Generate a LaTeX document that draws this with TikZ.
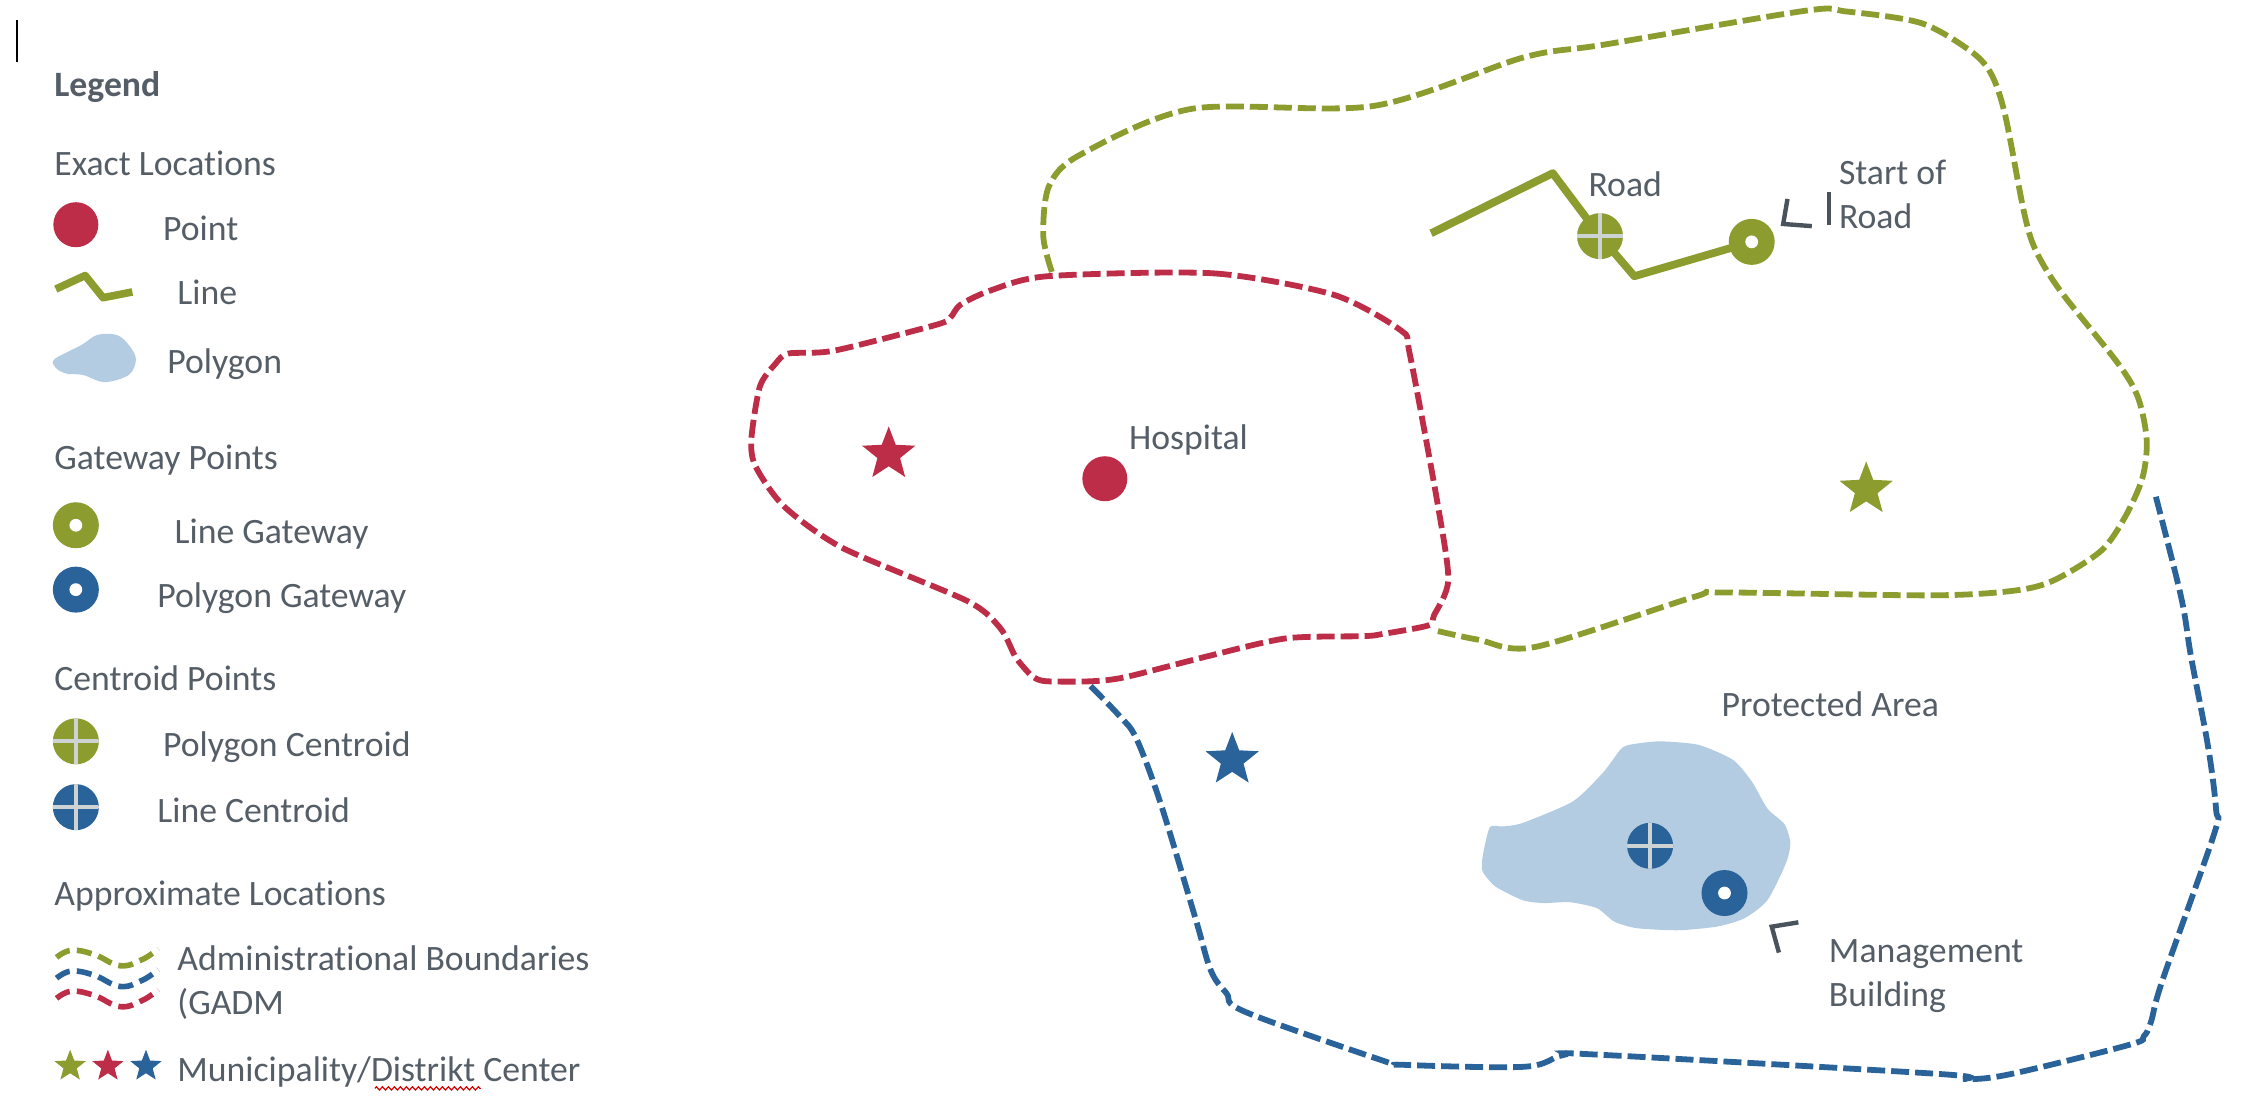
\documentclass[tikz,border=0pt]{standalone}
\usepackage{fontspec}
\setmainfont{Carlito}[Ligatures=NoCommon]
\usetikzlibrary{shapes.geometric,decorations.pathmorphing}
\pgfdeclarelayer{under}
\pgfsetlayers{under,main}
\definecolor{olv}{HTML}{8C9C2E}
\definecolor{crim}{HTML}{BE2D48}
\definecolor{blu}{HTML}{2A6399}
\definecolor{pale}{HTML}{B3CCE2}
\definecolor{txt}{HTML}{555E67}
\definecolor{crossc}{HTML}{CDD3D3}
\definecolor{markc}{HTML}{4A535C}
\tikzset{
  lbl/.style={anchor=base west,inner sep=0pt,outer sep=0pt,text=txt,yshift=-0.6pt,font=\fontsize{17.85}{20}\selectfont},
  pointmark/.style={circle,fill=#1,inner sep=0pt,minimum size=22.5pt},
  gatemark/.style={circle,fill=#1,inner sep=0pt,minimum size=23pt,
    path picture={\fill[white] (path picture bounding box.center) circle (3.2pt);}},
  centmark/.style={circle,fill=#1,inner sep=0pt,minimum size=23pt,
    path picture={\draw[crossc,line width=1.9pt]
      (path picture bounding box.north) -- (path picture bounding box.south)
      (path picture bounding box.west) -- (path picture bounding box.east);}},
  starbig/.style={star,star points=5,star point ratio=2.35,fill=#1,inner sep=0pt,minimum size=28pt},
  starsmall/.style={star,star points=5,star point ratio=2.35,fill=#1,inner sep=0pt,minimum size=16.5pt},
  bound/.style={draw=#1,line width=2.9pt,dash pattern=on 9pt off 3pt},
  legbound/.style={draw=#1,line width=2.8pt,dash pattern=on 7.5pt off 3.6pt},
  roadline/.style={draw=olv,line width=3.9pt,line join=round},
  tick/.style={draw=markc,line width=2.2pt},
}
\begin{document}
\begin{tikzpicture}[x=0.7156pt,y=-0.7156pt]
\useasboundingbox (0,0) rectangle (1568,771.4);
% cursor
\coordinate (cura) at (12,14); \coordinate (curb) at (12,43);
\draw[black,line width=0.9pt] (cura) -- (curb);
% legend
\node[lbl,font=\fontsize{17.85}{20}\selectfont\bfseries] (tlegend) at (38,66.5) {Legend};
\node[lbl] (texact) at (38,122) {Exact Locations};
\node[pointmark=crim] (lpoint) at (53,157) {};
\node[lbl] (tpoint) at (114,167.5) {Point};
\coordinate (la) at (39,202); \coordinate (lb) at (59.5,192.5); \coordinate (lc) at (72,208); \coordinate (ld) at (92.5,204);
\draw[olv,line width=3.8pt,line join=round] (la) -- (lb) -- (lc) -- (ld);
\node[lbl] (tline) at (124,212) {Line};
\fill[pale] plot[smooth cycle,tension=0.55] coordinates {(38,251) (57,241) (68,234) (81.5,234) (90,241) (95,251) (90,262) (73,267) (58,262) (46,261) (39,257)};
\node[lbl] (tpolygon) at (117,260) {Polygon};
\node[lbl] (tgateway) at (38,327) {Gateway Points};
\node[gatemark=olv] (lgl) at (53,367) {};
\node[lbl] (tgl) at (122,379) {Line Gateway};
\node[gatemark=blu] (lgp) at (53,412) {};
\node[lbl] (tgp) at (110,423.5) {Polygon Gateway};
\node[lbl] (tcent) at (38,481.5) {Centroid Points};
\node[centmark=olv] (lcp) at (53,518) {};
\node[lbl] (tcp) at (114,528) {Polygon Centroid};
\node[centmark=blu] (lcl) at (53,564) {};
\node[lbl] (tcl) at (110,574) {Line Centroid};
\node[lbl] (tappr) at (38,632) {Approximate Locations};
\draw[legbound=olv] plot[smooth,tension=0.7] coordinates {(39.5,669) (50,664) (66,667) (84,674.8) (99.5,670.4) (110.5,663)};
\draw[legbound=blu] plot[smooth,tension=0.7] coordinates {(39.5,683.5) (50,678.5) (66,681.5) (84,689.3) (99.5,684.9) (110.5,677.5)};
\draw[legbound=crim] plot[smooth,tension=0.7] coordinates {(39.5,697.6) (50,692.6) (66,695.6) (84,703.4) (99.5,699) (110.5,691.6)};
\node[lbl] (tadm) at (124,677.5) {Administrational Boundaries};
\node[lbl] (tgadm) at (124,708) {(GADM};
\node[starsmall=olv] (lso) at (49,745) {};
\node[starsmall=crim] (lsc) at (75.4,745) {};
\node[starsmall=blu] (lsb) at (102,745) {};
\node[lbl] (tmun) at (124,754.5) {Municipality/Distrikt Center};
\coordinate (sqa) at (262,760.5); \coordinate (sqb) at (336,760.5);
\draw[red!85!black,line width=0.6pt,decorate,decoration={zigzag,amplitude=0.8pt,segment length=3pt}] (sqa) -- (sqb);
% boundaries
\draw[bound=olv] plot[smooth,tension=0.5] coordinates {(735,190) (729,165) (733,130) (755,108) (833,76) (960,74) (1065,40) (1122,31) (1261.5,7.5) (1290,8) (1342,16) (1376,35) (1391,51) (1401,80) (1414,147) (1422,174) (1439.5,203) (1480,254) (1494,278) (1500,307.5) (1497,334) (1485,361) (1468,385) (1434,406) (1405,413) (1348,416) (1204,414) (1184,417) (1073,452) (1033,447) (1003.6,440.7)};
\draw[bound=blu] plot[smooth,tension=0.55] coordinates {(762,479.4) (782,500) (794,516) (811,561.4) (835,640.6) (846,678) (857,694) (870,707) (966,741) (980,744) (1065,745.4) (1092,737.3) (1118,737) (1356,750.5) (1373,754) (1405,750.5) (1488,730) (1498,724) (1503,714) (1511,685) (1547,583) (1548.5,566) (1543,522.4) (1531,459) (1524,417) (1505.5,343.6)};
\draw[bound=crim] plot[smooth cycle,tension=0.45] coordinates {(732,193) (848,191) (932,206) (979,231) (985,247) (1004,349) (1012,405) (1002,430) (998,437) (966,443) (953,444.5) (899,446) (846,458) (787,473) (763,476) (731,476) (722,473) (715,466) (709,458) (699,439) (676,420) (589,383) (548,354) (528,326) (525,307) (531,270) (542,254) (551,247) (583,245) (654,227) (664,222) (671,213) (692,203)};
% protected area
\fill[pale] plot[smooth cycle,tension=0.4] coordinates {(1041,578) (1050,577.5) (1064,575) (1099,560) (1120,540) (1133,523) (1141,520) (1160,518) (1187,520.5) (1211,531) (1224,546) (1235,565) (1247,576) (1251,589) (1248,603) (1235,629) (1219,641.6) (1200,647.4) (1173,650) (1144,648.6) (1128,644) (1116,634.6) (1097,630.4) (1078.5,631) (1064,629) (1045,619.5) (1036,609) (1036,598.5)};
\node[lbl] (tprot) at (1203,500) {Protected Area};
\node[centmark=blu] (pcent) at (1153,591) {};
\node[gatemark=blu] (pgate) at (1205,624) {};
\coordinate (ma) at (1256.6,644.5); \coordinate (mb) at (1238,647.5); \coordinate (mc) at (1243,665.6);
\draw[tick] (ma) -- (mb) -- (mc);
\node[lbl] (tman) at (1278,672) {Management};
\node[lbl] (tbld) at (1278,702.7) {Building};
% hospital
\node[starbig=crim] (sred) at (621,317.5) {};
\node[pointmark=crim] (hosp) at (772,334.5) {};
\node[lbl] (thosp) at (789,313.5) {Hospital};
% road
\coordinate (ra) at (1000,163); \coordinate (rb) at (1085,121); \coordinate (rc) at (1142,193);
\node[centmark=olv] (rcent) at (1118,165) {};
\node[gatemark=olv] (rgate) at (1224,169) {};
\begin{pgfonlayer}{under}
\draw[roadline] (ra) -- (rb) -- (rcent.center) -- (rc) -- (rgate.center);
\end{pgfonlayer}
\node[lbl] (troad) at (1110,136.5) {Road};
\node[lbl] (tstart) at (1285,128) {Start of};
\node[lbl] (troadb) at (1285,159) {Road};
\coordinate (ta) at (1249,139); \coordinate (tb) at (1246,156.5); \coordinate (tc) at (1266,158);
\draw[tick] (ta) -- (tb) -- (tc);
\coordinate (td) at (1278,134); \coordinate (te) at (1278,157);
\draw[tick] (td) -- (te);
% stars
\node[starbig=olv] (sgreen) at (1304,342) {};
\node[starbig=blu] (sblue) at (861,531) {};
\end{tikzpicture}
\end{document}
